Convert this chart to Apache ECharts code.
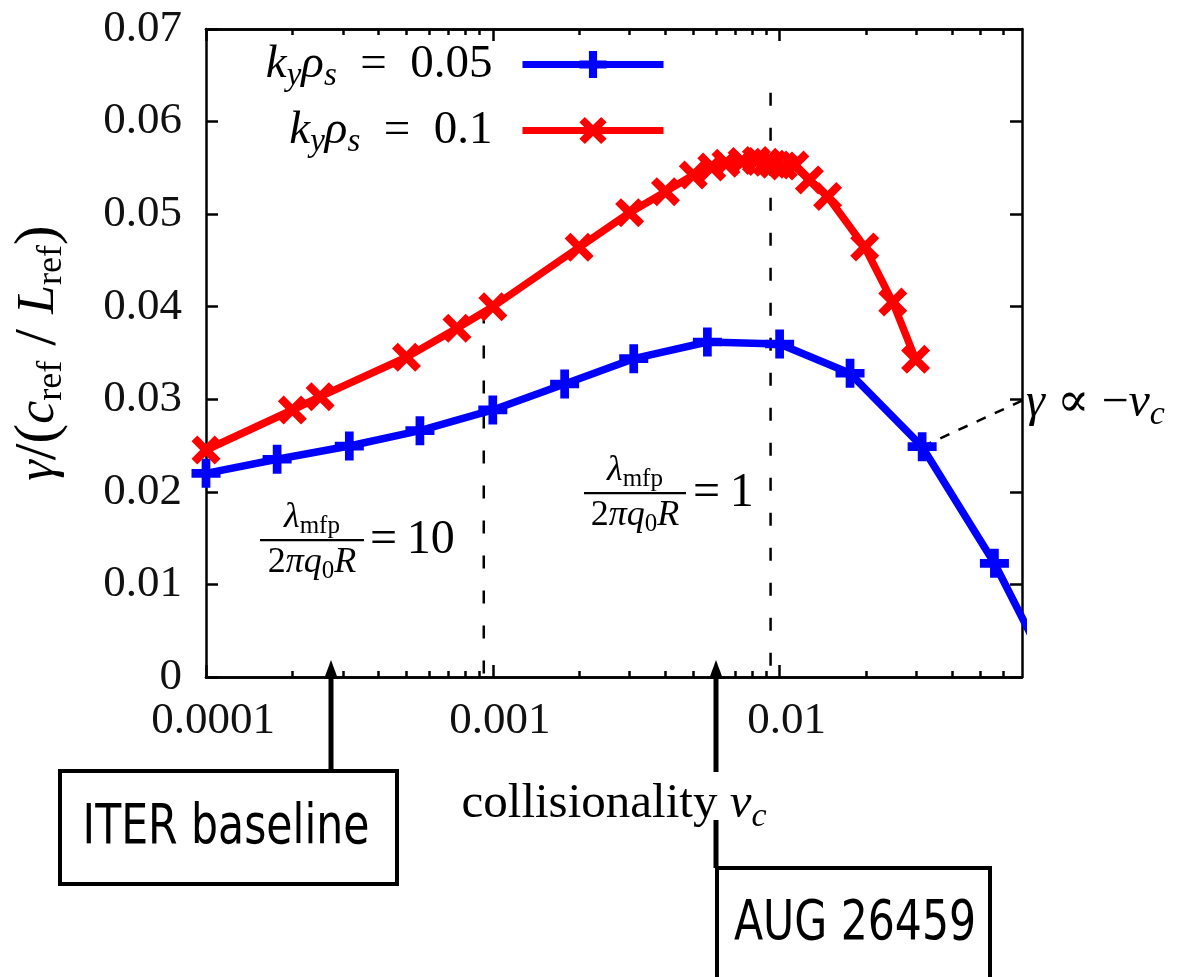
<!DOCTYPE html>
<html>
<head>
<meta charset="utf-8">
<script src="https://cdn.jsdelivr.net/npm/echarts@6/dist/echarts.min.js"></script>
<style>
html,body{margin:0;padding:0;background:#fff;}
#chart{width:1182px;height:977px;}
</style>
</head>
<body>
<div id="chart"></div>
<script>
// ---------------- data ----------------
const nuBlue = [0.0001, 0.000177, 0.000316, 0.000557, 0.001, 0.00178, 0.0031, 0.0056, 0.01, 0.0176, 0.0314, 0.0561, 0.1];
const gammaBlue = [0.0220, 0.02352, 0.02495, 0.02661, 0.02885, 0.03165, 0.03439, 0.03619, 0.03597, 0.03281, 0.02488, 0.01228, -0.003];

const nuRed = [0.0001, 0.0002, 0.00025, 0.0005, 0.00075, 0.001, 0.002, 0.003, 0.004, 0.005, 0.0058, 0.0065, 0.0074, 0.0083, 0.009, 0.0095, 0.0103, 0.0113, 0.0127, 0.0147, 0.0198, 0.0248, 0.0298];
const gammaRed = [0.02452, 0.02884, 0.03028, 0.03454, 0.03767, 0.0400, 0.04642, 0.05016, 0.05243, 0.05423, 0.0551, 0.0555, 0.0557, 0.0558, 0.0556, 0.0554, 0.0552, 0.0553, 0.0537, 0.0519, 0.04645, 0.0405, 0.03432];

const xMin = 0.0001, xMax = 0.07;
const yMin = 0, yMax = 0.07, yStep = 0.01;
const xLabelValues = [0.0001, 0.001, 0.01];
const xMajorTicks = [0.0001, 0.001, 0.01];
const xMinorTicks = [0.0002,0.0003,0.0004,0.0005,0.0006,0.0007,0.0008,0.0009,
                     0.002,0.003,0.004,0.005,0.006,0.007,0.008,0.009,
                     0.02,0.03,0.04,0.05,0.06];

// guide lines (lambda_mfp/(2 pi q0 R) = 10 and = 1)
const guide10 = {nu: 0.00093, top: 0.0396, bottom: -0.0011};
const guide1  = {nu: 0.0093,  top: 0.0631, bottom: -0.0011};
// gamma ~ -nu annotation pointer
const pointerLine = [[0.0314, 0.02488], [0.07, 0.02985]];
// experiment markers on the collisionality axis
const ITER_NU = 0.000273;
const AUG_NU = 0.006;

// ---------------- styles ----------------
const SERIF = "'Liberation Serif','DejaVu Serif',serif";
const CONDENSED = "'DejaVu Sans Condensed','DejaVu Sans',sans-serif";
const F = 45;
function mathRich(size) {
  const sub = Math.round(size * 0.7);
  return {
    it:    {fontFamily: SERIF, fontStyle: 'italic', fontSize: size, color: '#000'},
    rm:    {fontFamily: SERIF, fontSize: size, color: '#000'},
    big:   {fontFamily: SERIF, fontSize: Math.round(size * 1.15), color: '#000'},
    sub:   {fontFamily: SERIF, fontStyle: 'italic', fontSize: sub, color: '#000', padding: [Math.round(size * 0.5), 0, 0, 0]},
    subrm: {fontFamily: SERIF, fontSize: sub, color: '#000', padding: [Math.round(size * 0.5), 0, 0, 0]},
    sp:    {width: 25, fontSize: size}
  };
}

const PLUS = 'path://M7,0 H13 V7 H20 V13 H13 V20 H7 V13 H0 V7 H7 Z';
const CROSS = 'path://M0,2 L2,0 L5,3 L8,0 L10,2 L7,5 L10,8 L8,10 L5,7 L2,10 L0,8 L3,5 Z';
const BLUE = '#0000ff', RED = '#ff0000';

function logAxis(position, ticks, tickLen, withLabels) {
  const ax = {
    type: 'log', logBase: 10, min: xMin, max: xMax, position: position,
    axisLine: {show: true, onZero: false, lineStyle: {color: '#000', width: 2.5}},
    axisTick: {show: true, inside: true, length: tickLen, customValues: ticks, lineStyle: {color: '#000', width: 2.5}},
    splitLine: {show: false},
    minorTick: {show: false},
    axisLabel: {show: false}
  };
  if (withLabels) {
    ax.axisLabel = {
      show: true, customValues: xLabelValues, margin: 22,
      fontFamily: SERIF, fontSize: F, color: '#111', padding: [0, 0, 0, 14],
      formatter: v => String(+(+v).toPrecision(6))
    };
    ax.name = '{rm|collisionality }{it|ν}{sub|c}';
    ax.nameLocation = 'middle';
    ax.nameGap = 98;
    ax.nameTextStyle = {rich: mathRich(49)};
  }
  return ax;
}
function valAxis(position, withLabels) {
  const ax = {
    type: 'value', min: yMin, max: yMax, interval: yStep, position: position,
    axisLine: {show: true, onZero: false, lineStyle: {color: '#000', width: 2.5}},
    axisTick: {show: true, inside: true, length: 12, lineStyle: {color: '#000', width: 2.5}},
    splitLine: {show: false},
    axisLabel: {show: false}
  };
  if (withLabels) {
    ax.axisLabel = {
      show: true, margin: 24, fontFamily: SERIF, fontSize: F, color: '#111',
      formatter: v => (Math.abs(v) < 1e-9 ? '0' : (+v).toFixed(2))
    };
    ax.name = '{it|γ}{big|/(}{it|c}{subrm|ref}{big| / }{it|L}{subrm|ref}{big|)}';
    ax.nameLocation = 'middle';
    ax.nameRotate = 90;
    ax.nameGap = 136;
    ax.nameTextStyle = {rich: mathRich(52)};
  }
  return ax;
}

const chart = echarts.init(document.getElementById('chart'));

const option = {
  backgroundColor: '#fff',
  animation: false,
  grid: {left: 206, right: 160, top: 29, bottom: 300, containLabel: false},
  legend: {
    data: ['ky005', 'ky010'],
    orient: 'vertical', align: 'right',
    right: 515, top: 41, padding: 0,
    itemWidth: 141, itemHeight: 34, itemGap: 14,
    lineStyle: {width: 7},
    selectedMode: false,
    formatter: name => name === 'ky005'
      ? '{it|k}{sub|y}{it|ρ}{sub|s}{rm|  =  0.05}{sp| }'
      : '{it|k}{sub|y}{it|ρ}{sub|s}{rm|  =  0.1}{sp| }',
    textStyle: {rich: mathRich(47)}
  },
  xAxis: [
    logAxis('bottom', xMajorTicks, 12, true),
    logAxis('bottom', xMinorTicks, 6, false),
    logAxis('top', xMajorTicks, 12, false),
    logAxis('top', xMinorTicks, 6, false)
  ],
  yAxis: [valAxis('left', true), valAxis('right', false)],
  series: [
    {
      name: '_guide10', type: 'line', xAxisIndex: 0, yAxisIndex: 0,
      data: [[guide10.nu, guide10.top], [guide10.nu, guide10.bottom]],
      symbol: 'none', clip: false, silent: true, z: 1,
      lineStyle: {color: '#000', width: 2.5, type: [13, 22]}
    },
    {
      name: '_guide1', type: 'line', xAxisIndex: 0, yAxisIndex: 0,
      data: [[guide1.nu, guide1.top], [guide1.nu, guide1.bottom]],
      symbol: 'none', clip: false, silent: true, z: 1,
      lineStyle: {color: '#000', width: 2.5, type: [13, 22]}
    },
    {
      name: '_pointer', type: 'line', xAxisIndex: 0, yAxisIndex: 0,
      data: pointerLine,
      symbol: 'none', clip: false, silent: true, z: 1,
      lineStyle: {color: '#000', width: 2.5, type: [10, 10]}
    },
    {
      name: 'ky005', type: 'line', xAxisIndex: 0, yAxisIndex: 0,
      data: nuBlue.map((x, i) => [x, gammaBlue[i]]),
      symbol: PLUS, symbolSize: 29, showAllSymbol: true, clip: true, z: 2,
      lineStyle: {color: BLUE, width: 7.5},
      itemStyle: {color: BLUE}
    },
    {
      name: 'ky010', type: 'line', xAxisIndex: 0, yAxisIndex: 0,
      data: nuRed.map((x, i) => [x, gammaRed[i]]),
      symbol: CROSS, symbolSize: 29, showAllSymbol: true, clip: true, z: 3,
      lineStyle: {color: RED, width: 7.5},
      itemStyle: {color: RED}
    }
  ]
};
chart.setOption(option);

// ---------------- annotations ----------------
const R36 = mathRich(36);
const RF = mathRich(48);
function fraction(cx, barY, barW, rhs, rhsX) {
  return [
    {type: 'text', x: cx, y: barY - 1, z: 10,
     style: {text: '{it|λ}{subrm|mfp}', rich: R36, align: 'center', verticalAlign: 'bottom'}},
    {type: 'rect', z: 10, shape: {x: cx - barW / 2, y: barY - 1, width: barW, height: 2.2}, style: {fill: '#000'}},
    {type: 'text', x: cx, y: barY + 1, z: 10,
     style: {text: '{rm|2}{it|πq}{subrm|0}{it|R}', rich: R36, align: 'center', verticalAlign: 'top'}},
    {type: 'text', x: rhsX, y: barY, z: 10,
     style: {text: '{rm|=\u2009' + rhs + '}', rich: RF, align: 'left', verticalAlign: 'middle'}}
  ];
}

const iterX = Math.round(chart.convertToPixel({xAxisIndex: 0}, ITER_NU));
const augX = Math.round(chart.convertToPixel({xAxisIndex: 0}, AUG_NU));
const axisY = chart.convertToPixel({yAxisIndex: 0}, 0);
const tipY = axisY - 17;

function arrowHead(x) {
  return {type: 'polygon', z: 20, shape: {points: [[x, tipY], [x - 7, tipY + 19], [x + 7, tipY + 19]]}, style: {fill: '#000'}};
}
function vline(x, y1, y2) {
  return {type: 'line', z: 20, shape: {x1: x, y1: y1, x2: x, y2: y2}, style: {stroke: '#000', lineWidth: 5}};
}
function boxText(txt, cx, cy) {
  return {type: 'text', x: cx, y: cy, z: 21, scaleX: 0.86, scaleY: 1,
          style: {text: txt, font: '55px ' + CONDENSED, fill: '#000', align: 'center', verticalAlign: 'middle'}};
}

const elements = [].concat(
  fraction(312, 540, 104, '10', 370),
  fraction(635, 493, 102, '1', 693),
  [
    {type: 'text', x: 1026, y: 403, z: 10,
     style: {text: '{it|γ}{rm| ∝ −}{it|ν}{sub|c}', rich: RF, align: 'left', verticalAlign: 'middle'}},
    arrowHead(iterX),
    vline(iterX, tipY + 15, 771),
    {type: 'rect', z: 20, shape: {x: 60, y: 771, width: 337, height: 113},
     style: {fill: '#fff', stroke: '#000', lineWidth: 4}},
    boxText('ITER baseline', 226, 829),
    arrowHead(augX),
    vline(augX, tipY + 15, 772),
    vline(augX, 820, 868),
    {type: 'rect', z: 20, shape: {x: augX + 1, y: 868, width: 273, height: 130},
     style: {fill: '#fff', stroke: '#000', lineWidth: 4}},
    boxText('AUG 26459', 855, 925)
  ]
);
chart.setOption({graphic: {elements: elements}});
</script>
</body>
</html>
